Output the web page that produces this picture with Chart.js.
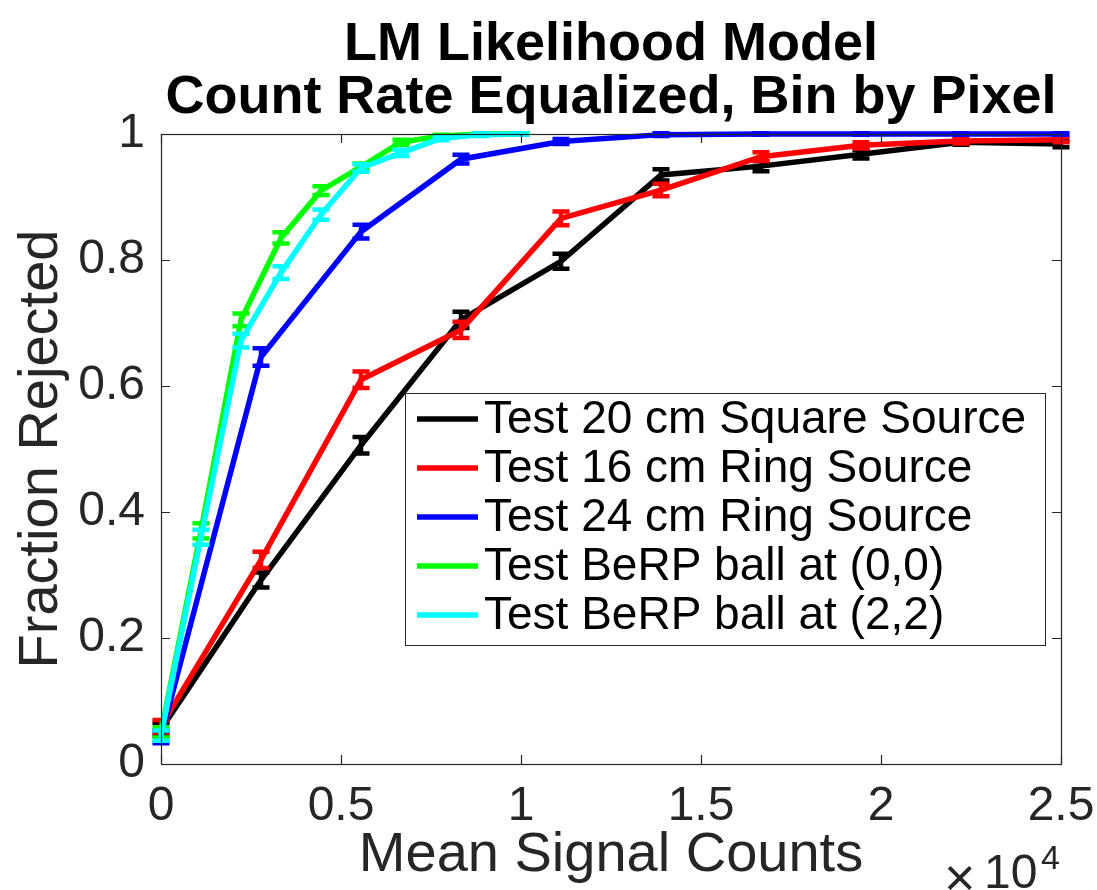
<!DOCTYPE html>
<html>
<head>
<meta charset="utf-8">
<script src="https://cdn.jsdelivr.net/npm/chart.js@4.4.1/dist/chart.umd.min.js"></script>
<style>
  html, body { margin: 0; padding: 0; background: #ffffff; }
  #wrap { width: 1097px; height: 890px; position: relative; }
</style>
</head>
<body>
<div id="wrap"><canvas id="c" width="1097" height="890"></canvas></div>
<script>
// ---- Data ----
const titleLines = ['LM Likelihood Model', 'Count Rate Equalized, Bin by Pixel'];
const xAxisTitle = 'Mean Signal Counts';
const yAxisTitle = 'Fraction Rejected';
const xTicks = [0, 5000, 10000, 15000, 20000, 25000];
const yTicks = [0, 0.2, 0.4, 0.6, 0.8, 1];

const xSourceCounts = [0, 2778, 5556, 8333, 11111, 13889, 16667, 19444, 22222, 25000];
const xBerpCounts   = [0, 1111, 2222, 3333, 4444, 5556, 6667, 7778, 8889, 10000];

const labels = [
  'Test 20 cm Square Source',
  'Test 16 cm Ring Source',
  'Test 24 cm Ring Source',
  'Test BeRP ball at (0,0)',
  'Test BeRP ball at (2,2)'
];
const colors = ['#000000', '#ff0000', '#0000ff', '#00ff00', '#00ffff'];

const ySquare20 = [0.055, 0.292, 0.506, 0.705, 0.798, 0.935, 0.949, 0.968, 0.987, 0.984];
const yRing16   = [0.060, 0.324, 0.610, 0.689, 0.866, 0.911, 0.964, 0.982, 0.989, 0.991];
const yRing24   = [0.043, 0.646, 0.845, 0.960, 0.988, 0.999, 1.000, 1.000, 1.000, 1.000];
const yBerp00   = [0.050, 0.370, 0.705, 0.835, 0.910, 0.948, 0.987, 0.997, 1.000, 1.000];
const yBerp22   = [0.045, 0.360, 0.672, 0.780, 0.872, 0.946, 0.970, 0.993, 0.999, 1.000];

const eSquare20 = [0.010, 0.012, 0.013, 0.013, 0.012, 0.009, 0.008, 0.007, 0.004, 0.005];
const eRing16   = [0.010, 0.013, 0.013, 0.013, 0.011, 0.010, 0.007, 0.005, 0.004, 0.004];
const eRing24   = [0.010, 0.014, 0.011, 0.007, 0.004, 0.002, 0.001, 0.001, 0.001, 0.001];
const eBerp00   = [0.008, 0.012, 0.010, 0.009, 0.007, 0.005, 0.004, 0.002, 0.001, 0.001];
const eBerp22   = [0.008, 0.012, 0.011, 0.010, 0.008, 0.006, 0.005, 0.003, 0.002, 0.001];

const seriesX = [xSourceCounts, xSourceCounts, xSourceCounts, xBerpCounts, xBerpCounts];
const seriesY = [ySquare20, yRing16, yRing24, yBerp00, yBerp22];
const seriesE = [eSquare20, eRing16, eRing24, eBerp00, eBerp22];

// ---- Build datasets ----
const FONT = "'Liberation Sans', Arial, Helvetica, sans-serif";
const datasets = labels.map((lab, i) => ({
  label: lab,
  data: seriesX[i].map((x, k) => ({ x: x, y: seriesY[i][k] })),
  errors: seriesE[i],
  borderColor: colors[i],
  backgroundColor: colors[i],
  borderWidth: 5.5,
  pointRadius: 0,
  pointHoverRadius: 0,
  tension: 0,
  fill: false,
  clip: false,
  order: labels.length - i
}));

// ---- Plugins ----
const errorBarPlugin = {
  id: 'errorBars',
  afterDatasetDraw(chart, args) {
    const ds = chart.data.datasets[args.index];
    const xs = chart.scales.x, ys = chart.scales.y;
    const ctx = chart.ctx;
    ctx.save();
    ctx.strokeStyle = ds.borderColor;
    ctx.lineWidth = 4.5;
    ctx.lineCap = 'butt';
    const cap = 8.5;
    ds.data.forEach((p, k) => {
      const e = ds.errors[k];
      const px = xs.getPixelForValue(p.x);
      const y1 = ys.getPixelForValue(p.y - e);
      const y2 = ys.getPixelForValue(p.y + e);
      ctx.beginPath();
      ctx.moveTo(px, y1); ctx.lineTo(px, y2);
      ctx.moveTo(px - cap, y1); ctx.lineTo(px + cap, y1);
      ctx.moveTo(px - cap, y2); ctx.lineTo(px + cap, y2);
      ctx.stroke();
    });
    ctx.restore();
  }
};

const framePlugin = {
  id: 'frame',
  afterDraw(chart) {
    const ctx = chart.ctx;
    const a = chart.chartArea;
    const xs = chart.scales.x, ys = chart.scales.y;
    ctx.save();
    // title, centred over the plot area
    ctx.fillStyle = '#000000';
    ctx.textAlign = 'center';
    ctx.textBaseline = 'alphabetic';
    ctx.font = 'bold 54px ' + FONT;
    const cx = (a.left + a.right) / 2;
    ctx.fillText(titleLines[0], cx, 60);
    ctx.fillText(titleLines[1], cx, 113);

    ctx.strokeStyle = '#262626';
    ctx.lineWidth = 1.2;
    ctx.strokeRect(a.left + 0.5, a.top + 0.5, a.right - a.left, a.bottom - a.top);
    const tl = 9;
    ctx.beginPath();
    xTicks.forEach(v => {
      const px = Math.round(xs.getPixelForValue(v)) + 0.5;
      ctx.moveTo(px, a.bottom); ctx.lineTo(px, a.bottom - tl);
      ctx.moveTo(px, a.top); ctx.lineTo(px, a.top + tl);
    });
    yTicks.forEach(v => {
      const py = Math.round(ys.getPixelForValue(v)) + 0.5;
      ctx.moveTo(a.left, py); ctx.lineTo(a.left + tl, py);
      ctx.moveTo(a.right, py); ctx.lineTo(a.right - tl, py);
    });
    ctx.stroke();

    // exponent label x10^4
    ctx.fillStyle = '#262626';
    ctx.textAlign = 'left';
    ctx.font = '54px ' + FONT;
    ctx.fillText('\u00d7', 944, 896);
    ctx.font = '48px ' + FONT;
    ctx.fillText('10', 984, 888);
    ctx.font = '34px ' + FONT;
    ctx.fillText('4', 1041, 869);

    // legend
    const bx = 405, by = 393, bw = 640, bh = 252;
    ctx.fillStyle = '#ffffff';
    ctx.fillRect(bx, by, bw, bh);
    ctx.strokeStyle = '#262626';
    ctx.lineWidth = 1;
    ctx.strokeRect(bx + 0.5, by + 0.5, bw, bh);
    ctx.font = '46px ' + FONT;
    ctx.textBaseline = 'middle';
    chart.data.datasets.forEach((ds, i) => {
      const ry = 419 + 49 * i;
      ctx.strokeStyle = ds.borderColor;
      ctx.lineWidth = 5.5;
      ctx.beginPath();
      ctx.moveTo(417, ry); ctx.lineTo(478, ry);
      ctx.stroke();
      ctx.fillStyle = '#000000';
      ctx.fillText(ds.label, 484, ry + 1);
    });
    ctx.restore();
  }
};

// ---- Chart ----
new Chart(document.getElementById('c'), {
  type: 'line',
  data: { datasets: datasets },
  plugins: [errorBarPlugin, framePlugin],
  options: {
    responsive: false,
    animation: false,
    events: [],
    layout: { padding: { left: 0, right: 36, top: 134, bottom: 0 } },
    plugins: {
      legend: { display: false },
      tooltip: { enabled: false },
      title: { display: false }
    },
    scales: {
      x: {
        type: 'linear',
        min: 0, max: 25000,
        afterFit: s => { s.height = 126; s.paddingLeft = 0; s.paddingRight = 0; },
        afterBuildTicks: s => { s.ticks = xTicks.map(v => ({ value: v })); },
        grid: { display: false, drawTicks: false },
        border: { display: false },
        ticks: {
          color: '#262626',
          padding: 14,
          maxRotation: 0,
          font: { family: FONT, size: 48 },
          callback: v => String(v / 10000)
        },
        title: {
          display: true,
          text: xAxisTitle,
          color: '#262626',
          font: { family: FONT, size: 56, lineHeight: 1 },
          padding: { top: 0, bottom: 6 }
        }
      },
      y: {
        type: 'linear',
        min: 0, max: 1,
        afterFit: s => { s.width = 161; s.paddingTop = 0; s.paddingBottom = 0; },
        afterBuildTicks: s => { s.ticks = yTicks.map(v => ({ value: v })); },
        grid: { display: false, drawTicks: false },
        border: { display: false },
        ticks: {
          color: '#262626',
          padding: 16,
          font: { family: FONT, size: 48 },
          callback: v => String(v)
        },
        title: {
          display: true,
          text: yAxisTitle,
          color: '#262626',
          font: { family: FONT, size: 56, lineHeight: 1 },
          padding: { top: 14, bottom: 0 }
        }
      }
    }
  }
});
</script>
</body>
</html>
